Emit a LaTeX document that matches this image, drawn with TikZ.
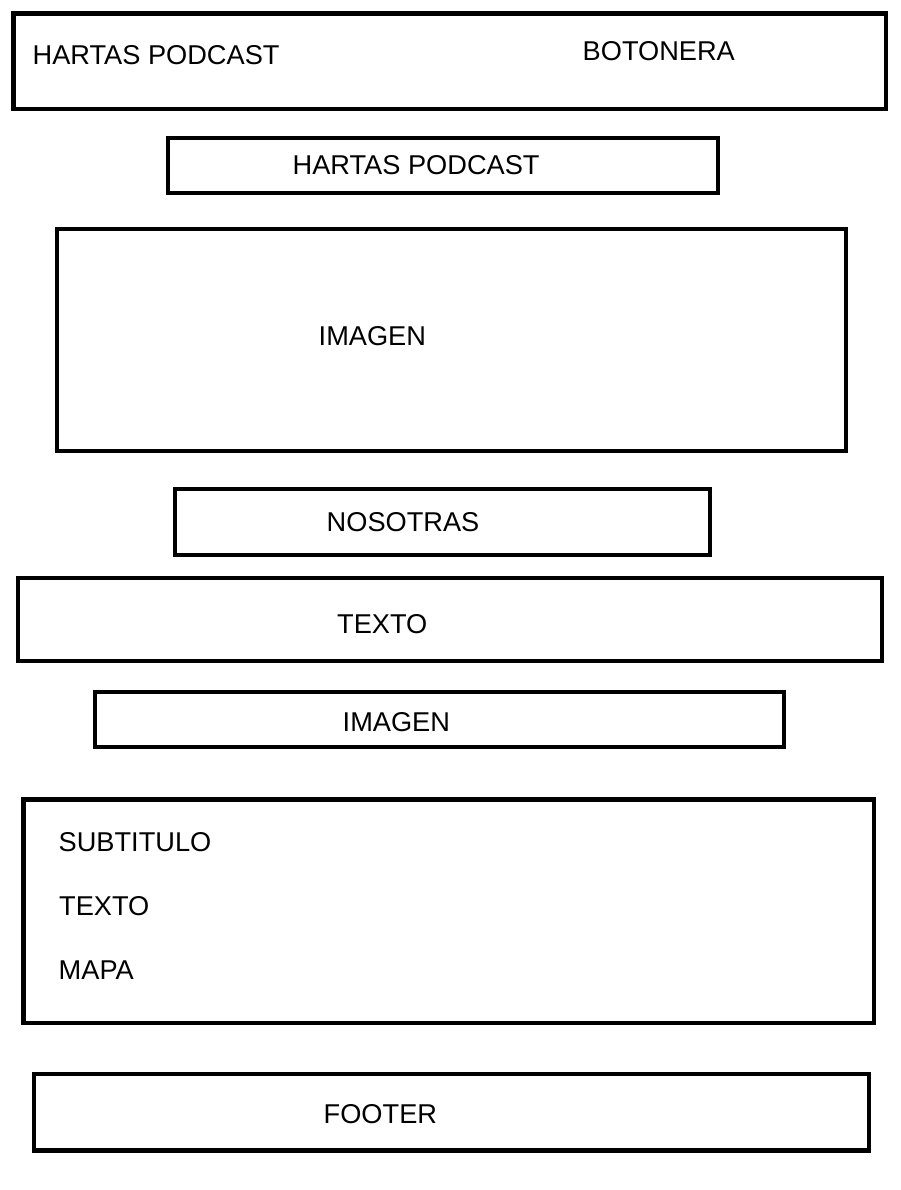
\documentclass[tikz,border=0pt]{standalone}
\usepackage{fontspec}
\setmainfont{Liberation Sans}
\begin{document}
\begin{tikzpicture}[x=1pt,y=-1pt,
  box/.style={draw=black,line width=4.8pt,line join=miter},
  lbl/.style={inner sep=0pt,anchor=base west,font=\fontsize{27.2}{30}\selectfont}]
\useasboundingbox[fill=white] (0,0) rectangle (900,1190);
% boxes
\draw[box] (13.5,13.5) rectangle (886,109);
\draw[box] (168,138) rectangle (718,193);
\draw[box] (57,229) rectangle (846,451);
\draw[box] (175,489) rectangle (710,555);
\draw[box] (18,578) rectangle (882,661);
\draw[box] (95,692) rectangle (784,747);
\draw[box] (23.5,799.5) rectangle (874,1023);
\draw[box] (34,1074) rectangle (869,1150.5);
% labels
\node[lbl] (t1) at (32.5,65) {HARTAS PODCAST};
\node[lbl] (t2) at (582.5,61) {BOTONERA};
\node[lbl] (t3) at (292.5,175) {HARTAS PODCAST};
\node[lbl] (t4) at (318.5,345) {IMAGEN};
\node[lbl] (t5) at (326.5,531) {NOSOTRAS};
\node[lbl] (t6) at (337,633) {TEXTO};
\node[lbl] (t7) at (342.5,731) {IMAGEN};
\node[lbl] (t8) at (58.5,851) {SUBTITULO};
\node[lbl] (t9) at (59,915) {TEXTO};
\node[lbl] (t10) at (58.5,979) {MAPA};
\node[lbl] (t11) at (323.5,1123) {FOOTER};
\end{tikzpicture}
\end{document}
